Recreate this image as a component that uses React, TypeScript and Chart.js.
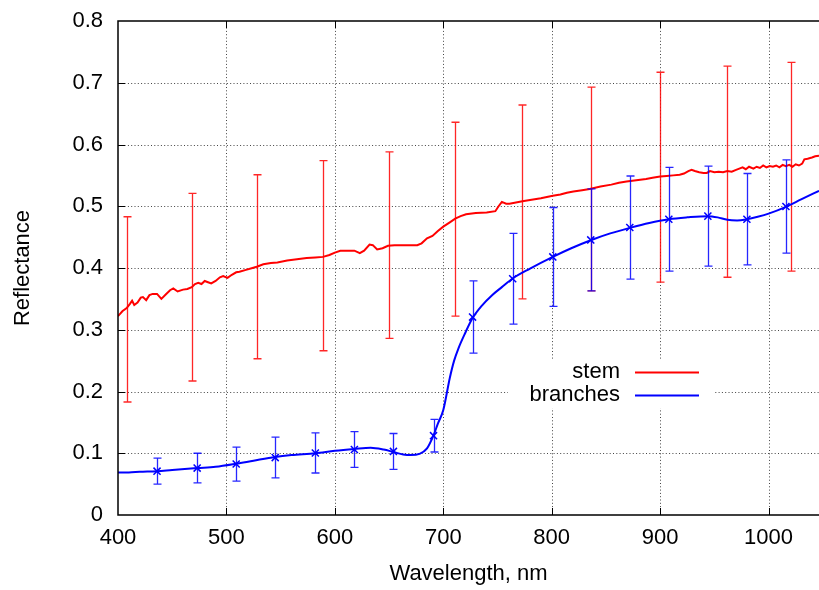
import React, { useEffect, useRef } from 'react';
import { Chart, registerables } from 'chart.js';

Chart.register(...registerables);

// ---- axis ticks ----
const xTicks = [400, 500, 600, 700, 800, 900, 1000];
const yTicks = [0, 0.1, 0.2, 0.3, 0.4, 0.5, 0.6, 0.7, 0.8];
const X_MIN = 400;
const X_MAX = 1046.5;
const Y_MIN = 0;
const Y_MAX = 0.8;

// ---- stem spectrum ----
const stemWl = [400, 404, 408, 411, 413, 415, 418, 421, 423, 426, 429, 432, 436, 440, 444, 448, 451, 455, 460, 464, 468, 471, 474, 477, 480, 483, 486, 490, 494, 497, 501, 505, 509, 512, 518, 524, 528, 534, 541, 547, 556, 565, 574, 582, 589, 595, 600, 605, 612, 618, 623, 627, 632, 635, 639, 644, 649, 655, 660, 668, 676, 680, 685, 690, 695, 700, 706, 711, 716, 721, 730, 740, 748, 751, 754, 758, 761, 767, 773, 780, 790, 801, 808, 814, 820, 828, 835, 845, 855, 862, 869, 878, 887, 893, 900, 906, 912, 918, 922, 926, 929, 932, 936, 940, 943, 946, 950, 954, 958, 962, 966, 970, 973, 976, 979, 982, 986, 989, 992, 995, 998, 1001, 1004, 1007, 1010, 1013, 1016, 1019, 1022, 1025, 1028, 1031, 1033, 1036, 1040, 1043, 1046.5];
const stemRefl = [0.322, 0.330, 0.335, 0.342, 0.347, 0.340, 0.344, 0.352, 0.353, 0.348, 0.356, 0.358, 0.358, 0.350, 0.357, 0.364, 0.367, 0.362, 0.365, 0.366, 0.369, 0.374, 0.376, 0.374, 0.379, 0.377, 0.375, 0.379, 0.385, 0.387, 0.384, 0.389, 0.393, 0.394, 0.397, 0.400, 0.402, 0.406, 0.408, 0.409, 0.412, 0.414, 0.416, 0.417, 0.418, 0.421, 0.425, 0.428, 0.428, 0.428, 0.424, 0.428, 0.438, 0.437, 0.430, 0.432, 0.436, 0.437, 0.437, 0.437, 0.437, 0.440, 0.448, 0.452, 0.460, 0.467, 0.474, 0.480, 0.484, 0.487, 0.489, 0.490, 0.492, 0.500, 0.507, 0.504, 0.504, 0.506, 0.508, 0.510, 0.513, 0.517, 0.519, 0.522, 0.524, 0.526, 0.528, 0.532, 0.535, 0.538, 0.540, 0.542, 0.544, 0.546, 0.548, 0.549, 0.550, 0.551, 0.553, 0.557, 0.559, 0.557, 0.555, 0.554, 0.554, 0.557, 0.555, 0.556, 0.555, 0.557, 0.556, 0.559, 0.561, 0.563, 0.560, 0.564, 0.561, 0.564, 0.562, 0.566, 0.563, 0.565, 0.564, 0.566, 0.563, 0.567, 0.565, 0.567, 0.564, 0.568, 0.566, 0.569, 0.576, 0.577, 0.579, 0.581, 0.582];

// ---- branches spectrum ----
const branchWl = [400, 410, 420, 436, 450, 473, 490, 509, 525, 545, 560, 582, 600, 618, 633, 645, 654, 663, 670, 678, 685, 691, 695, 700, 706, 710, 714, 720, 727, 735, 745, 754, 764, 780, 801, 818, 836, 854, 872, 890, 908, 925, 944, 953, 962, 971, 980, 990, 1000, 1016, 1030, 1046.5];
const branchRefl = [0.069, 0.069, 0.070, 0.071, 0.073, 0.076, 0.078, 0.083, 0.088, 0.094, 0.097, 0.100, 0.104, 0.107, 0.109, 0.106, 0.102, 0.098, 0.097, 0.099, 0.108, 0.129, 0.148, 0.170, 0.222, 0.250, 0.270, 0.294, 0.319, 0.338, 0.356, 0.369, 0.383, 0.399, 0.418, 0.432, 0.445, 0.456, 0.465, 0.473, 0.479, 0.482, 0.484, 0.482, 0.478, 0.477, 0.479, 0.483, 0.488, 0.499, 0.511, 0.525];

// ---- error bars ----
const stemErrWl = [408, 468, 528, 589, 650, 711, 773, 836, 900, 962, 1021];
const stemErrMean = [0.333, 0.369, 0.402, 0.420, 0.437, 0.479, 0.507, 0.528, 0.547, 0.556, 0.564];
const stemErrDelta = [0.150, 0.152, 0.149, 0.154, 0.151, 0.157, 0.157, 0.165, 0.170, 0.171, 0.169];

const branchErrWl = [436, 473, 509, 545, 582, 618, 654, 691, 727, 764, 801, 836, 872, 908, 944, 980, 1016];
const branchErrMean = [0.071, 0.076, 0.0825, 0.093, 0.1005, 0.106, 0.103, 0.1285, 0.3205, 0.3825, 0.418, 0.4455, 0.4655, 0.479, 0.484, 0.479, 0.4995];
const branchErrDelta = [0.021, 0.024, 0.0275, 0.033, 0.0325, 0.029, 0.029, 0.0265, 0.0585, 0.0735, 0.080, 0.0825, 0.0835, 0.084, 0.081, 0.074, 0.0755];

const seriesNames = ['stem', 'branches'];
const RED = '#ff0000';
const BLUE = '#0000ff';
const FONT = '"Liberation Sans", Arial, Helvetica, sans-serif';

function drawErrorBars(chart: any, wl: number[], mean: number[], delta: number[], color: string) {
  const { ctx, scales } = chart;
  const xs = scales.x;
  const ys = scales.y;
  ctx.save();
  ctx.strokeStyle = color;
  ctx.lineWidth = 1.3;
  const cap = 4;
  for (let i = 0; i < wl.length; i++) {
    const px = Math.round(xs.getPixelForValue(wl[i])) + 0.5;
    const top = ys.getPixelForValue(mean[i] + delta[i]);
    const bot = ys.getPixelForValue(mean[i] - delta[i]);
    ctx.beginPath();
    ctx.moveTo(px, top);
    ctx.lineTo(px, bot);
    ctx.moveTo(px - cap, top);
    ctx.lineTo(px + cap, top);
    ctx.moveTo(px - cap, bot);
    ctx.lineTo(px + cap, bot);
    ctx.stroke();
  }
  ctx.restore();
}

const gnuPlugin = {
  id: 'gnuplotStyle',
  beforeDatasetsDraw(chart: any) {
    const { ctx, chartArea: a, scales } = chart;
    const xs = scales.x;
    const ys = scales.y;
    ctx.save();
    ctx.strokeStyle = '#444';
    ctx.lineWidth = 1;
    ctx.setLineDash([1, 2.3]);
    for (const v of xTicks) {
      if (v <= X_MIN) continue;
      const px = Math.round(xs.getPixelForValue(v)) + 0.5;
      ctx.beginPath();
      ctx.moveTo(px, a.top);
      ctx.lineTo(px, a.bottom);
      ctx.stroke();
    }
    for (const v of yTicks) {
      if (v <= Y_MIN || v >= Y_MAX) continue;
      const py = Math.round(ys.getPixelForValue(v)) + 0.5;
      ctx.beginPath();
      ctx.moveTo(a.left, py);
      ctx.lineTo(a.right, py);
      ctx.stroke();
    }
    ctx.setLineDash([]);
    // key box background
    ctx.fillStyle = '#ffffff';
    ctx.fillRect(a.left + 390, a.top + 339, 205, 48);
    ctx.restore();
  },
  afterDatasetDraw(chart: any, args: any) {
    const ds = chart.data.datasets[args.index];
    if (ds.label === seriesNames[0]) {
      drawErrorBars(chart, stemErrWl, stemErrMean, stemErrDelta, 'rgba(255,0,0,0.85)');
    } else if (ds.label === seriesNames[1]) {
      drawErrorBars(chart, branchErrWl, branchErrMean, branchErrDelta, 'rgba(0,0,255,0.85)');
    }
  },
  afterDraw(chart: any) {
    const { ctx, chartArea: a, scales } = chart;
    const xs = scales.x;
    const ys = scales.y;
    ctx.save();
    // key
    ctx.font = '22px ' + FONT;
    ctx.fillStyle = '#000';
    ctx.textAlign = 'right';
    ctx.textBaseline = 'middle';
    const tx = a.left + 502;
    const rows = [a.top + 351, a.top + 374];
    const cols = [RED, BLUE];
    for (let i = 0; i < seriesNames.length; i++) {
      ctx.fillText(seriesNames[i], tx, rows[i]);
      ctx.strokeStyle = cols[i];
      ctx.lineWidth = 2;
      ctx.beginPath();
      ctx.moveTo(tx + 15, rows[i] + 0.5);
      ctx.lineTo(tx + 79, rows[i] + 0.5);
      ctx.stroke();
    }
    // border + inward ticks
    ctx.strokeStyle = '#000';
    ctx.lineWidth = 1.5;
    ctx.beginPath();
    ctx.moveTo(a.right + 2, a.top);
    ctx.lineTo(a.left, a.top);
    ctx.lineTo(a.left, a.bottom);
    ctx.lineTo(a.right + 2, a.bottom);
    ctx.stroke();
    ctx.lineWidth = 1;
    const tl = 7;
    ctx.beginPath();
    for (const v of xTicks) {
      if (v <= X_MIN) continue;
      const px = Math.round(xs.getPixelForValue(v)) + 0.5;
      ctx.moveTo(px, a.bottom);
      ctx.lineTo(px, a.bottom - tl);
      ctx.moveTo(px, a.top);
      ctx.lineTo(px, a.top + tl);
    }
    for (const v of yTicks) {
      if (v <= Y_MIN || v >= Y_MAX) continue;
      const py = Math.round(ys.getPixelForValue(v)) + 0.5;
      ctx.moveTo(a.left, py);
      ctx.lineTo(a.left + tl, py);
    }
    ctx.stroke();
    ctx.restore();
  },
};

export default function App() {
  const ref = useRef<HTMLCanvasElement | null>(null);

  useEffect(() => {
    if (!ref.current) return;
    Chart.defaults.font.family = FONT;
    const stemData = stemWl.map((w, i) => ({ x: w, y: stemRefl[i] }));
    const branchData = branchWl.map((w, i) => ({ x: w, y: branchRefl[i] }));
    const markerData = branchErrWl.map((w, i) => ({ x: w, y: branchErrMean[i] }));

    const chart = new Chart(ref.current, {
      type: 'line',
      data: {
        datasets: [
          {
            label: 'markers',
            data: markerData,
            showLine: false,
            pointStyle: 'crossRot',
            pointRadius: 5,
            pointBorderWidth: 1.5,
            pointBorderColor: BLUE,
            pointBackgroundColor: BLUE,
            borderColor: BLUE,
          },
          {
            label: seriesNames[1],
            data: branchData,
            borderColor: BLUE,
            borderWidth: 2,
            pointRadius: 0,
            cubicInterpolationMode: 'monotone',
            fill: false,
          },
          {
            label: seriesNames[0],
            data: stemData,
            borderColor: RED,
            borderWidth: 2,
            pointRadius: 0,
            tension: 0,
            fill: false,
          },
        ],
      },
      options: {
        responsive: false,
        animation: false,
        events: [],
        layout: { autoPadding: false, padding: { top: 21, right: 0, bottom: 0, left: 0 } },
        plugins: {
          legend: { display: false },
          tooltip: { enabled: false },
          title: { display: false },
        },
        scales: {
          x: {
            type: 'linear',
            min: X_MIN,
            max: X_MAX,
            afterBuildTicks: (s: any) => {
              s.ticks = xTicks.map((v) => ({ value: v }));
            },
            afterFit: (s: any) => {
              s.height = 75;
              s.paddingLeft = 0;
              s.paddingRight = 0;
            },
            grid: { display: false, drawTicks: false },
            border: { display: false },
            ticks: {
              color: '#000',
              font: { size: 22 },
              padding: 10,
              maxRotation: 0,
              autoSkip: false,
              callback: (v: any) => String(v),
            },
            title: {
              display: true,
              text: 'Wavelength, nm',
              color: '#000',
              font: { size: 22 },
              padding: { top: 0, bottom: 3 },
            },
          },
          y: {
            type: 'linear',
            min: Y_MIN,
            max: Y_MAX,
            afterBuildTicks: (s: any) => {
              s.ticks = yTicks.map((v) => ({ value: v }));
            },
            afterFit: (s: any) => {
              s.width = 118;
              s.paddingTop = 0;
              s.paddingBottom = 0;
            },
            grid: { display: false, drawTicks: false },
            border: { display: false },
            ticks: {
              color: '#000',
              font: { size: 22 },
              padding: 15,
              callback: (v: any) => (Number(v) === 0 ? '0' : Number(v).toFixed(1)),
            },
            title: {
              display: true,
              text: 'Reflectance',
              color: '#000',
              font: { size: 22 },
              padding: { top: 10, bottom: 0 },
            },
          },
        },
      },
      plugins: [gnuPlugin],
    });
    return () => chart.destroy();
  }, []);

  return (
    <div style={{ position: 'absolute', left: 0, top: 0, width: 819, height: 590, background: '#fff' }}>
      <canvas ref={ref} width={819} height={590} style={{ display: 'block' }} />
    </div>
  );
}
